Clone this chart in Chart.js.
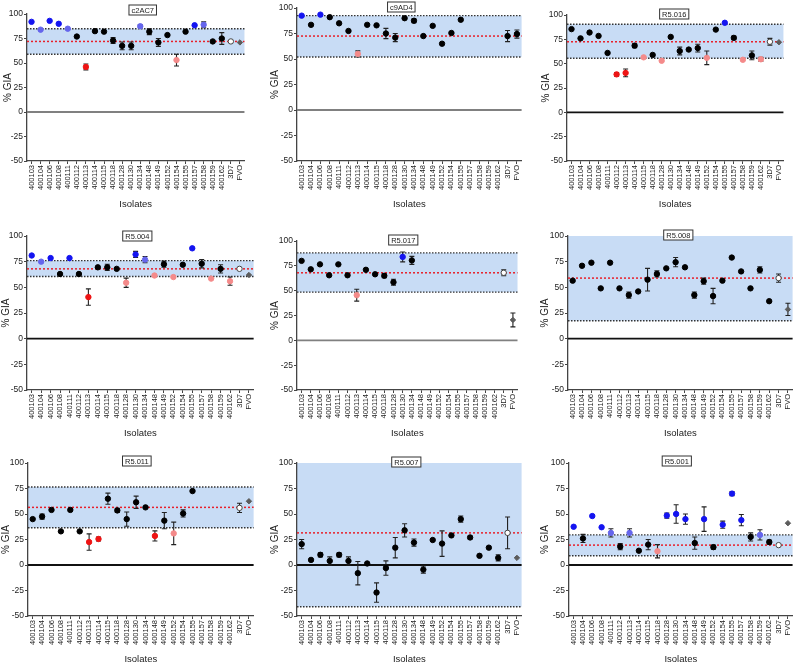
<!DOCTYPE html>
<html>
<head>
  <meta charset="UTF-8">
  <title>% GIA por aislado</title>
  <style>
    body {
      margin: 0;
      width: 798px;
      height: 663px;
      overflow: hidden;
      background: #fff;
    }

    .panel {
      position: absolute;
    }
  </style>
  <script src="https://cdn.jsdelivr.net/npm/chart.js"></script>
</head>
<body>
  <div id="grid"></div>

  <script>
    var isolates = ['400103', '400104', '400106', '400108', '400111', '400112', '400113', '400114',
      '400115', '400118', '400128', '400130', '400134', '400148', '400149', '400152', '400154',
      '400155', '400157', '400158', '400159', '400162', '3D7', 'FVO'];

    // point groups: k = within range, b / lb = above, r / lr = below, o = 3D7 ref, d = FVO ref
    // band arrays: [lower limit, upper limit, mean]

    var c2ac7Gia = [92, 84, 93, 90, 85, 77, 46, 82.5, 82, 73, 67.5, 67.5, 87.5, 82, 71, 78.5, 53, 82, 88.5, 89, 72, 75, 72, 71];
    var c2ac7Err = [0, 0, 0, 0, 0, 0, 3, 0, 0, 3, 4, 4, 1.5, 3, 4, 0, 6, 0, 0, 3, 0, 6, 0, 0];
    var c2ac7Grp = ['b', 'lb', 'b', 'b', 'lb', 'k', 'r', 'k', 'k', 'k', 'k', 'k', 'lb', 'k', 'k', 'k', 'lr', 'k', 'b', 'lb', 'k', 'k', 'o', 'd'];
    var c2ac7Band = [59, 85, 72];

    var c9ad4Gia = [92.5, 83.5, 93.5, 91, 85, 77.5, 55, 83.5, 83, 75, 71, 90, 87.5, 72.5, 82.5, 65, 75.5, 88.5, null, null, null, null, 72.5, 74.5];
    var c9ad4Err = [0, 0, 0, 0, 0, 0, 3, 0, 0, 5, 4, 0, 2, 0, 0, 0, 0, 0, 0, 0, 0, 0, 5.5, 4];
    var c9ad4Grp = ['b', 'k', 'b', 'k', 'k', 'k', 'lr', 'k', 'k', 'k', 'k', 'k', 'k', 'k', 'k', 'k', 'k', 'k', 'k', 'k', 'k', 'k', 'k', 'k'];
    var c9ad4Band = [52, 92.5, 72.5];

    var r5016Gia = [85.5, 76, 82, 78.5, 61, 39, 40.5, 68.5, 56.5, 59, 53, 77.5, 63, 64.5, 66, 56, 85, 92, 76.5, 54, 58.5, 54.5, 72.5, 72];
    var r5016Err = [0, 0, 0, 0, 0, 2, 4, 2, 0, 0, 0, 0, 4, 0, 4, 7, 0, 0, 2, 0, 4.5, 2, 3.5, 0];
    var r5016Grp = ['k', 'k', 'k', 'k', 'k', 'r', 'r', 'k', 'lr', 'k', 'lr', 'k', 'k', 'k', 'k', 'lr', 'k', 'b', 'k', 'lr', 'k', 'lr', 'o', 'd'];
    var r5016Band = [55.5, 90.5, 72.5];

    var r5004Gia = [81, 75, 78.5, 63, 78.5, 63, 40.5, 69.5, 69.5, 68, 54.5, 82, 77, 61.5, 72.5, 60, 72, 88, 73, 58.5, 68, 56, 68, 62];
    var r5004Err = [0, 0, 0, 0, 0, 0, 8, 0, 3, 0, 4.5, 3, 3, 0, 3, 0, 0, 0, 4, 0, 4, 4, 0, 0];
    var r5004Grp = ['b', 'lb', 'b', 'k', 'b', 'k', 'r', 'k', 'k', 'k', 'lr', 'b', 'lb', 'lr', 'k', 'lr', 'k', 'b', 'k', 'lr', 'k', 'lr', 'o', 'd'];
    var r5004Band = [60.5, 76, 68];

    var r5017Gia = [80, 71.5, 76.5, 65.5, 76.5, 65.5, 45.5, 71, 66.5, 65, 58.5, 84, 80.5, null, null, null, null, null, null, null, null, null, 68, 20.5];
    var r5017Err = [0, 0, 0, 0, 0, 0, 6, 0, 0, 2, 3, 5, 4, 0, 0, 0, 0, 0, 0, 0, 0, 0, 3, 7];
    var r5017Grp = ['k', 'k', 'k', 'k', 'k', 'k', 'lr', 'k', 'k', 'k', 'k', 'b', 'k', 'k', 'k', 'k', 'k', 'k', 'k', 'k', 'k', 'k', 'o', 'd'];
    var r5017Band = [48.5, 88, 68];

    var r5008Gia = [56.5, 71, 74, 49, 74, 49, 42.5, 46, 57.5, 63, 68.5, 74.5, 69.5, 42.5, 56, 41.5, 56.5, 79, 65.5, 49, 67, 36.5, 59, 28.5];
    var r5008Err = [0, 0, 0, 0, 0, 0, 3, 0, 11, 3, 0, 4.5, 0, 3, 3, 7.5, 0, 0, 0, 0, 3, 0, 4, 6];
    var r5008Grp = ['k', 'k', 'k', 'k', 'k', 'k', 'k', 'k', 'k', 'k', 'k', 'k', 'k', 'k', 'k', 'k', 'k', 'k', 'k', 'k', 'k', 'k', 'o', 'd'];
    var r5008Band = [17.5, 100, 59];

    var r5011Gia = [45, 47.5, 54, 33, 54, 33, 22.5, 25.5, 65, 53.5, 45, 61.5, 56.5, 28.5, 43.5, 31, 50.5, 72.5, null, null, null, null, 56, 62.5];
    var r5011Err = [0, 2.5, 0, 0, 0, 0, 8, 2, 5.5, 2, 7, 6, 0, 5, 8, 11, 3.5, 0, 0, 0, 0, 0, 4.5, 0];
    var r5011Grp = ['k', 'k', 'k', 'k', 'k', 'k', 'r', 'r', 'k', 'k', 'k', 'k', 'k', 'r', 'k', 'lr', 'k', 'k', 'k', 'k', 'k', 'k', 'o', 'd'];
    var r5011Band = [36.5, 76.5, 56.5];

    var r5007Gia = [20.5, 5, 10, 4, 10, 4, -8, 1.5, -27, -3, 17, 34, 22, -4.5, 24.5, 21, 29, 45, 27, 9, 17, 7, 31.5, 7];
    var r5007Err = [4.5, 0, 2, 4, 2, 4, 11.5, 0, 9.5, 7, 10, 6.5, 3.5, 3.5, 0, 12.5, 0, 3, 1.5, 0, 0, 3, 15.5, 0];
    var r5007Grp = ['k', 'k', 'k', 'k', 'k', 'k', 'k', 'k', 'k', 'k', 'k', 'k', 'k', 'k', 'k', 'k', 'k', 'k', 'k', 'k', 'k', 'k', 'o', 'd'];
    var r5007Band = [-41, 100, 31.5];

    var r5001Gia = [37.5, 26, 48, 37, 31.5, 18, 31.5, 14, 20, 13.5, 48.5, 50, 45, 21.5, 45, 17.5, 39.5, 70, 44, 27.5, 29.5, 22.5, 19.5, 41];
    var r5001Err = [0, 4, 0, 0, 4, 3, 4, 0, 5, 6.5, 2.5, 9, 5, 6, 12, 2, 3.5, 2, 5.5, 4, 5, 2, 0, 0];
    var r5001Grp = ['b', 'k', 'b', 'b', 'lb', 'k', 'lb', 'k', 'k', 'lr', 'b', 'b', 'b', 'k', 'b', 'k', 'b', 'b', 'b', 'k', 'lb', 'k', 'o', 'd'];
    var r5001Band = [9, 29.5, 19.5];

    var groupFill = { k: '#000000', b: '#1414f0', lb: '#6565ec', r: '#ee1414', lr: '#f48a8a', o: '#ffffff', d: '#5c5c5c' };
    var groupLine = { k: '#000000', b: '#1414f0', lb: '#6565ec', r: '#ee1414', lr: '#f48a8a', o: '#444444', d: '#5c5c5c' };

    // where each panel sits on the page (tx = title box shift)
    var panels = [
      { name: 'c2AC7', gia: c2ac7Gia, err: c2ac7Err, grp: c2ac7Grp, band: c2ac7Band, left: 0, top: 0, w: 250, h: 211, yW: 27, padTop: 14, yPad: 2, zero: '#808080', tx: 7, ty: -4 },
      { name: 'c9AD4', gia: c9ad4Gia, err: c9ad4Err, grp: c9ad4Grp, band: c9ad4Band, left: 265, top: 0, w: 262, h: 211, yW: 32, padTop: 8, yPad: 4, zero: '#808080', tx: -8, ty: -1 },
      { name: 'R5.016', gia: r5016Gia, err: r5016Err, grp: r5016Grp, band: r5016Band, left: 530, top: 0, w: 259, h: 211, yW: 37, padTop: 15, yPad: 10, zero: '#111', tx: -1, ty: -1 },
      { name: 'R5.004', gia: r5004Gia, err: r5004Err, grp: r5004Grp, band: r5004Band, left: 0, top: 221, w: 259, h: 219, yW: 27, padTop: 15, yPad: 0, zero: '#111', tx: -3, ty: 0 },
      { name: 'R5.017', gia: r5017Gia, err: r5017Err, grp: r5017Grp, band: r5017Band, left: 265, top: 221, w: 258, h: 219, yW: 32, padTop: 20, yPad: 4, zero: '#808080', tx: -4, ty: -1 },
      { name: 'R5.008', gia: r5008Gia, err: r5008Err, grp: r5008Grp, band: r5008Band, left: 530, top: 221, w: 268, h: 219, yW: 38, padTop: 15, yPad: 9, zero: '#111', tx: -2, ty: -1 },
      { name: 'R5.011', gia: r5011Gia, err: r5011Err, grp: r5011Grp, band: r5011Band, left: 0, top: 441, w: 259, h: 225, yW: 28, padTop: 22, yPad: 0, zero: '#111', tx: -4, ty: -2 },
      { name: 'R5.007', gia: r5007Gia, err: r5007Err, grp: r5007Grp, band: r5007Band, left: 265, top: 441, w: 262, h: 225, yW: 32, padTop: 22, yPad: 4, zero: '#111', tx: -3, ty: -1 },
      { name: 'R5.001', gia: r5001Gia, err: r5001Err, grp: r5001Grp, band: r5001Band, left: 530, top: 441, w: 268, h: 225, yW: 39, padTop: 22, yPad: 9, zero: '#111', tx: -4, ty: -2 }
    ];

    function hline(ctx, area, yy, color, dash, width) {
      ctx.beginPath();
      ctx.setLineDash(dash);
      ctx.strokeStyle = color;
      ctx.lineWidth = width;
      ctx.moveTo(area.left, yy);
      ctx.lineTo(area.right, yy);
      ctx.stroke();
    }

    var giaDecor = {
      id: 'giaDecor',
      beforeDraw: function (chart, args, opts) {
        var ctx = chart.ctx, a = chart.chartArea, y = chart.scales.y;
        var yHi = y.getPixelForValue(opts.band[1]);
        var yLo = y.getPixelForValue(opts.band[0]);
        ctx.save();
        ctx.fillStyle = '#c8dcf5';
        ctx.fillRect(a.left, yHi, a.right - a.left, yLo - yHi);
        ctx.restore();
      },
      beforeDatasetsDraw: function (chart, args, opts) {
        var ctx = chart.ctx, a = chart.chartArea, x = chart.scales.x, y = chart.scales.y;
        ctx.save();
        hline(ctx, a, y.getPixelForValue(0), opts.zero, [], 1.8);
        if (opts.band[1] < 100) hline(ctx, a, y.getPixelForValue(opts.band[1]), '#333', [1.5, 1.5], 1.4);
        hline(ctx, a, y.getPixelForValue(opts.band[0]), '#333', [1.5, 1.5], 1.4);
        hline(ctx, a, y.getPixelForValue(opts.band[2]), '#e8202a', [2, 2], 1.5);

        // error bars
        ctx.setLineDash([]);
        ctx.strokeStyle = '#222';
        ctx.lineWidth = 1.1;
        var vals = chart.data.datasets[0].data;
        for (var i = 0; i < vals.length; i++) {
          var e = opts.err[i];
          if (vals[i] === null || !e) continue;
          var px = x.getPixelForValue(i);
          var y1 = y.getPixelForValue(vals[i] - e);
          var y2 = y.getPixelForValue(vals[i] + e);
          ctx.beginPath();
          ctx.moveTo(px, y1); ctx.lineTo(px, y2);
          ctx.moveTo(px - 2.5, y1); ctx.lineTo(px + 2.5, y1);
          ctx.moveTo(px - 2.5, y2); ctx.lineTo(px + 2.5, y2);
          ctx.stroke();
        }
        ctx.restore();
      },
      afterDraw: function (chart, args, opts) {
        var ctx = chart.ctx, a = chart.chartArea;
        ctx.save();
        ctx.font = '7.5px "Liberation Sans", Arial, sans-serif';
        var tw = ctx.measureText(opts.title).width;
        var cx = (a.left + a.right) / 2 + opts.tx;
        var cy = a.top + opts.ty;
        ctx.fillStyle = '#fff';
        ctx.fillRect(cx - tw / 2 - 2.5, cy - 5, tw + 5, 10);
        ctx.strokeStyle = '#333';
        ctx.lineWidth = 1;
        ctx.strokeRect(cx - tw / 2 - 2.5, cy - 5, tw + 5, 10);
        ctx.fillStyle = '#222';
        ctx.textAlign = 'center';
        ctx.textBaseline = 'middle';
        ctx.fillText(opts.title, cx, cy + 0.5);
        ctx.restore();
      }
    };

    Chart.defaults.font.family = '"Liberation Sans", Arial, sans-serif';
    Chart.defaults.color = '#222';

    var grid = document.getElementById('grid');

    panels.forEach(function (p) {
      var box = document.createElement('div');
      box.className = 'panel';
      box.style.left = p.left + 'px';
      box.style.top = p.top + 'px';
      box.style.width = p.w + 'px';
      box.style.height = p.h + 'px';
      var canvas = document.createElement('canvas');
      box.appendChild(canvas);
      grid.appendChild(box);

      new Chart(canvas.getContext('2d'), {
        type: 'line',
        data: {
          labels: isolates,
          datasets: [{
            data: p.gia,
            showLine: false,
            pointRadius: 2.7,
            pointHoverRadius: 2.7,
            pointBorderWidth: 1,
            pointStyle: p.grp.map(function (g) { return g === 'd' ? 'rectRot' : 'circle'; }),
            pointBackgroundColor: p.grp.map(function (g) { return groupFill[g]; }),
            pointBorderColor: p.grp.map(function (g) { return groupLine[g]; })
          }]
        },
        options: {
          responsive: true,
          maintainAspectRatio: false,
          animation: false,
          layout: { padding: { top: p.padTop, right: 2, left: 0, bottom: 0 } },
          plugins: {
            legend: { display: false },
            tooltip: { enabled: false },
            giaDecor: { band: p.band, err: p.err, zero: p.zero, title: p.name, tx: p.tx, ty: p.ty }
          },
          scales: {
            x: {
              type: 'category',
              offset: true,
              afterFit: function (axis) { axis.height = 50; },
              border: { color: '#444', width: 1.3 },
              grid: { drawOnChartArea: false, offset: false, tickLength: 3, color: '#444' },
              ticks: { autoSkip: false, minRotation: 90, maxRotation: 90, padding: 1, font: { size: 7.5 } },
              title: { display: true, text: 'Isolates', font: { size: 9.5 }, padding: { top: 0, bottom: 1 } }
            },
            y: {
              min: -50,
              max: 100,
              afterFit: function (axis) { axis.width = p.yW; },
              border: { color: '#444', width: 1.3 },
              grid: { drawOnChartArea: false, tickLength: 3, color: '#444' },
              ticks: { stepSize: 25, padding: 1, font: { size: 8.5 } },
              title: { display: true, text: '% GIA', font: { size: 10 }, padding: { top: p.yPad, bottom: 0 } }
            }
          }
        },
        plugins: [giaDecor]
      });
    });
  </script>
</body>
</html>
